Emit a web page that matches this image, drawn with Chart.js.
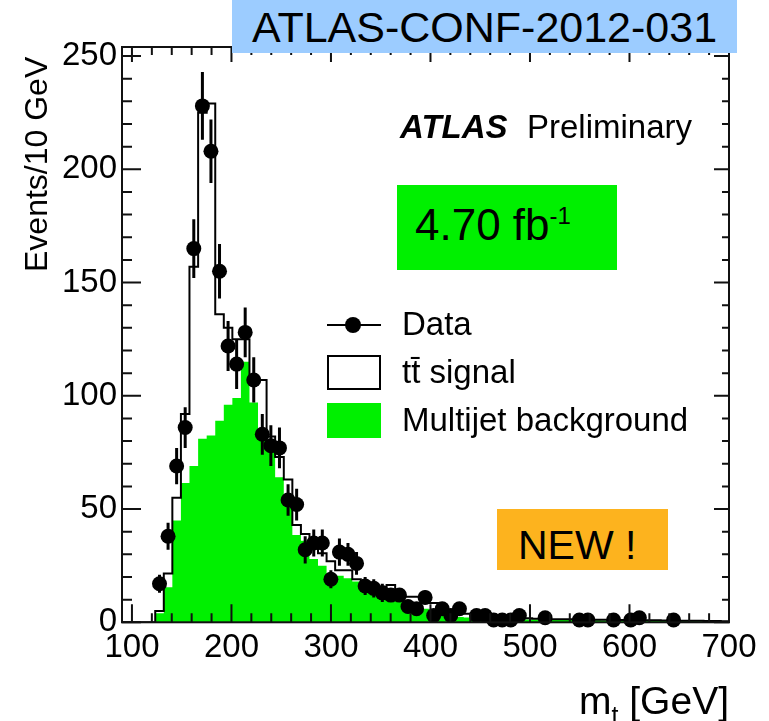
<!DOCTYPE html>
<html>
<head>
<meta charset="utf-8">
<script src="https://cdn.jsdelivr.net/npm/chart.js@4.4.1/dist/chart.umd.min.js"></script>
<style>
  html, body { margin: 0; padding: 0; background: #fff; }
  #wrap { position: relative; width: 769px; height: 721px; overflow: hidden;
          font-family: "Liberation Sans", Arial, Helvetica, sans-serif; color: #000; }
  #plot { position: absolute; left: 0; top: 0; }
  .t { position: absolute; white-space: nowrap; line-height: 1; }
  .box { position: absolute; }
</style>
</head>
<body>
<div id="wrap">
  <canvas id="plot" width="769" height="721"></canvas>

  <!-- axis titles -->
  <div class="t" style="left:20px;top:272px;font-size:32px;transform-origin:0 0;transform:rotate(-90deg);">Events/10 GeV</div>
  <div class="t" style="right:40px;top:681px;font-size:39px;">m<span style="font-size:25px;position:relative;top:10px;">t</span> [GeV]</div>

  <!-- labels -->
  <div class="box" style="left:232px;top:0;width:505px;height:53px;background:#9cccff;"></div>
  <div class="t" style="left:232px;width:505px;top:6px;font-size:43px;text-align:center;">ATLAS-CONF-2012-031</div>

  <div class="t" style="left:400px;top:110px;font-size:33px;font-weight:bold;font-style:italic;">ATLAS</div>
  <div class="t" style="left:527px;top:110px;font-size:33px;">Preliminary</div>

  <div class="box" style="left:397px;top:185px;width:220px;height:85px;background:#00f000;"></div>
  <div class="t" style="left:415px;top:203px;font-size:44px;">4.70 fb<span style="font-size:24px;position:relative;top:-16px;">-1</span></div>

  <!-- legend -->
  <div class="box" style="left:327px;top:324px;width:54px;height:2px;background:#000;"></div>
  <div class="box" style="left:345px;top:317px;width:16px;height:16px;border-radius:50%;background:#000;"></div>
  <div class="t" style="left:402px;top:307px;font-size:33px;">Data</div>
  <div class="box" style="left:327px;top:355px;width:54px;height:35px;box-sizing:border-box;border:2px solid #000;background:#fff;"></div>
  <div class="t" style="left:402px;top:355px;font-size:33px;">tt&#772; signal</div>
  <div class="box" style="left:327px;top:403px;width:54px;height:35px;background:#00f000;"></div>
  <div class="t" style="left:402px;top:403px;font-size:33px;">Multijet background</div>

  <div class="box" style="left:497px;top:509px;width:171px;height:61px;background:#fdb31e;"></div>
  <div class="t" style="left:518px;top:525px;font-size:41px;">NEW !</div>
</div>

<script>
// Data

// lower edges of the m_t bins (GeV), last entry is the upper edge of the last bin
const binEdges = [
  123.4, 132.0, 140.6, 149.2, 157.8, 166.5, 175.1, 183.7, 192.3, 200.9,
  209.5, 218.1, 226.7, 235.3, 243.9, 252.6, 261.2, 269.8, 278.4, 287.0,
  295.6, 304.2, 312.8, 321.4, 330.0, 338.7, 347.3, 355.9, 364.5, 373.1,
  381.7, 390.3, 398.9, 407.5, 416.1, 424.8, 433.4, 442.0, 450.6, 459.2,
  467.8, 476.4, 485.0, 493.6, 502.2, 510.9, 519.5, 528.1, 536.7, 545.3,
  553.9, 562.5, 571.1, 579.7, 588.3, 597.0, 605.6, 614.2, 622.8, 631.4,
  640.0, 648.6, 657.2, 665.8, 674.4, 683.1, 691.7, 700.0
];

// observed events per bin (null = no point drawn)
const dataCounts = [
  17, 38, 69, 86, 165, 228, 208, 155, 122, 114,
  128, 107, 83, 78, 77, 54, 52, 32, 35, 35,
  19, 31, 30, 26, 16, 15, 13, 12, 12, 7,
  6, 11, 3, 6, 3, 6, null, 3, 3, 1,
  1, 1, 3, null, null, 2, null, null, null, 1,
  1, null, null, 1, null, 1, 2, null, null, null,
  1, null, null, null, null, null, null
];

const dataErrors = [
  4, 6, 8, 9, 13, 15, 14, 12, 11, 11,
  11, 10, 9, 9, 9, 7, 7, 6, 6, 6,
  4, 6, 5, 5, 4, 4, 4, 3, 3, 3,
  2, 3, 2, 2, 2, 2, null, 2, 2, 1,
  1, 1, 2, null, null, 1, null, null, null, 1,
  1, null, null, 1, null, 1, 1, null, null, null,
  1, null, null, null, null, null, null
];

// ttbar signal stacked on top of the multijet background
const signalPlusBkg = [
  5, 21.5, 55, 92, 157, 225, 229, 136, 130, 125,
  125, 107, 107, 82, 73, 63, 43, 39, 34, 30.5,
  27, 23, 23, 19, 16.5, 15.7, 15.7, 16.5, 13, 11.3,
  11.3, 8.5, 8.5, 6, 5, 4.3, 3.8, 3.3, 3, 2.6,
  2.3, 2.1, 1.9, 1.8, 1.6, 1.5, 1.4, 1.3, 1.3, 1.2,
  1.2, 1.1, 1.1, 1.0, 1.0, 1.0, 0.9, 0.9, 0.9, 0.8,
  0.8, 0.7, 0.7, 0.7, 0.6, 0.6, 0.5
];

const multijetBkg = [
  4, 15.5, 45, 61.5, 69, 81, 82.5, 89, 96, 99,
  115, 97, 84, 77, 64, 55, 38.5, 36, 28, 25,
  21.5, 20.5, 19.5, 18, 16, 15, 14, 12.5, 10.5, 9,
  7.5, 6, 4.5, 3.2, 2.6, 2.3, 2.1, 1.9, 1.7, 1.6,
  1.5, 1.4, 1.3, 1.2, 1.2, 1.1, 1.1, 1.0, 1.0, 0.9,
  0.9, 0.9, 0.8, 0.8, 0.8, 0.7, 0.7, 0.7, 0.6, 0.6,
  0.6, 0.5, 0.5, 0.5, 0.5, 0.4, 0.4
];

const xTickLabels = [100, 200, 300, 400, 500, 600, 700];
const yTickLabels = [0, 50, 100, 150, 200, 250];
const xMinorStep = 20;
const yMinorStep = 10;

const FONT = '"Liberation Sans", Arial, Helvetica, sans-serif';
const GREEN = '#00f000';

// Helpers

// step outline: each point sits on a bin's upper edge and carries that bin's value;
// with stepped 'after' the value is drawn from the previous edge up to this one
function histPoints(values) {
  const pts = [{ x: 90, y: 0 }, { x: binEdges[0], y: 0 }];
  values.forEach((v, i) => pts.push({ x: binEdges[i + 1], y: v }));
  return pts;
}

const dataPoints = [];
dataCounts.forEach((v, i) => {
  if (v === null) return;
  dataPoints.push({ x: (binEdges[i] + binEdges[i + 1]) / 2, y: v, err: dataErrors[i] });
});

// Plugins

const errorBars = {
  id: 'errorBars',
  beforeDatasetDraw(chart, args) {
    if (args.index !== 0) return;
    const { ctx, scales: { x, y } } = chart;
    ctx.save();
    ctx.strokeStyle = '#000';
    ctx.lineWidth = 3;
    ctx.beginPath();
    chart.data.datasets[0].data.forEach(p => {
      const px = x.getPixelForValue(p.x);
      ctx.moveTo(px, y.getPixelForValue(p.y + p.err));
      ctx.lineTo(px, y.getPixelForValue(Math.max(p.y - p.err, 0)));
    });
    ctx.stroke();
    ctx.restore();
  }
};

// ROOT-style frame with inward ticks on all four sides
const frameTicks = {
  id: 'frameTicks',
  afterDatasetsDraw(chart) {
    const { ctx, chartArea: a, scales: { x, y } } = chart;
    ctx.save();
    ctx.strokeStyle = '#111';
    ctx.lineWidth = 2;
    ctx.strokeRect(a.left, a.top, a.right - a.left, a.bottom - a.top);
    ctx.beginPath();
    for (let v = xTickLabels[0]; v <= x.max; v += xMinorStep) {
      const px = x.getPixelForValue(v);
      const major = xTickLabels.includes(v);
      ctx.moveTo(px, a.bottom); ctx.lineTo(px, a.bottom - (major ? 18 : 9));
      ctx.moveTo(px, a.top);    ctx.lineTo(px, a.top + (major ? 15 : 8));
    }
    for (let v = 0; v <= y.max; v += yMinorStep) {
      const py = y.getPixelForValue(v);
      const major = yTickLabels.includes(v);
      ctx.moveTo(a.left, py);  ctx.lineTo(a.left + (major ? 19 : 10), py);
      ctx.moveTo(a.right, py); ctx.lineTo(a.right - (major ? 15 : 7), py);
    }
    ctx.stroke();
    ctx.restore();
  }
};

// Chart

new Chart(document.getElementById('plot'), {
  type: 'scatter',
  data: {
    datasets: [
      {
        type: 'scatter',
        label: 'Data',
        data: dataPoints,
        pointRadius: 7.5,
        pointBackgroundColor: '#000',
        pointBorderWidth: 0,
        showLine: false,
        clip: 10,
        order: 0
      },
      {
        type: 'line',
        label: 'tt\u0304 signal',
        data: histPoints(signalPlusBkg),
        stepped: 'after',
        showLine: true,
        borderColor: '#000',
        borderWidth: 2,
        pointRadius: 0,
        fill: false,
        order: 1
      },
      {
        type: 'line',
        label: 'Multijet background',
        data: histPoints(multijetBkg),
        stepped: 'after',
        showLine: true,
        borderColor: 'rgba(0,0,0,0)',
        borderWidth: 0,
        backgroundColor: GREEN,
        pointRadius: 0,
        fill: 'origin',
        order: 2
      }
    ]
  },
  options: {
    responsive: false,
    animation: false,
    devicePixelRatio: 1,
    layout: { padding: { top: 47, right: 40, left: 0, bottom: 0 } },
    plugins: { legend: { display: false }, tooltip: { enabled: false } },
    scales: {
      x: {
        type: 'linear',
        min: 90,
        max: 700,
        afterBuildTicks: s => { s.ticks = xTickLabels.map(v => ({ value: v })); },
        afterFit: s => { s.height = 98.7; },
        grid: { display: false, drawTicks: false },
        border: { display: false },
        ticks: { font: { size: 33, family: FONT }, color: '#000', padding: 6, maxRotation: 0, autoSkip: false }
      },
      y: {
        min: 0,
        max: 254,
        afterBuildTicks: s => { s.ticks = yTickLabels.map(v => ({ value: v })); },
        afterFit: s => { s.width = 122; },
        grid: { display: false, drawTicks: false },
        border: { display: false },
        ticks: { font: { size: 33, family: FONT }, color: '#000', padding: 5, autoSkip: false }
      }
    }
  },
  plugins: [errorBars, frameTicks]
});
</script>
</body>
</html>
